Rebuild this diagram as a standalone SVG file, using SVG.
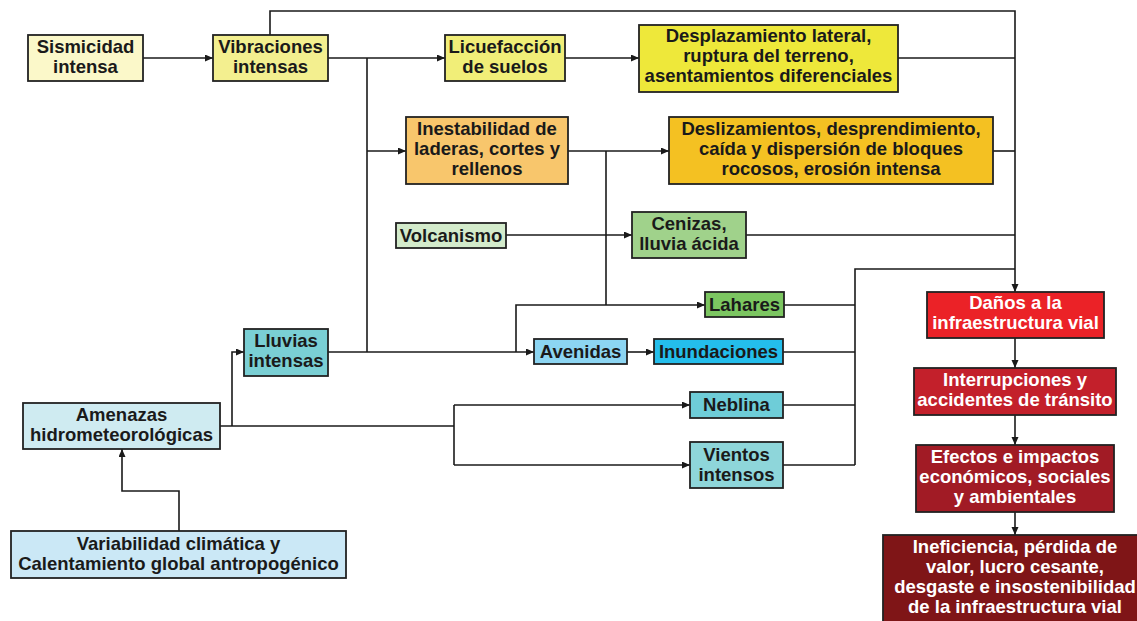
<svg xmlns="http://www.w3.org/2000/svg" width="1137" height="621" viewBox="0 0 1137 621">
<defs>
<marker id="ah" markerUnits="userSpaceOnUse" markerWidth="9" markerHeight="8" refX="8" refY="3.5" orient="auto">
<path d="M0,0 L8,3.5 L0,7 z" fill="#1a1a1a"/>
</marker>
</defs>
<style>
.b{stroke:#222;stroke-width:1.8}
.t{font-family:"Liberation Sans",Arial,sans-serif;font-weight:bold;font-size:18.5px;fill:#1a1a1a;text-anchor:middle}
.w{fill:#fff}
.c{fill:none;stroke:#1a1a1a;stroke-width:1.6}
.a{marker-end:url(#ah)}
</style>
<rect width="1137" height="621" fill="#fff"/>
<g id="connectors">
<path class="c a" d="M143,58 H213"/>
<path class="c a" d="M270,35 V11 H1015 V292"/>
<path class="c a" d="M328,58 H445"/>
<path class="c" d="M367,58 V352"/>
<path class="c a" d="M367,151 H406"/>
<path class="c a" d="M565,58 H639"/>
<path class="c" d="M898,58 H1015"/>
<path class="c a" d="M568,151 H669"/>
<path class="c" d="M993,151 H1015"/>
<path class="c" d="M606,151 V305"/>
<path class="c a" d="M506,235 H632"/>
<path class="c" d="M746,235 H1015"/>
<path class="c a" d="M516,352 V305 H705"/>
<path class="c a" d="M328,352 H534"/>
<path class="c a" d="M627,352 H654"/>
<path class="c" d="M1015,269 H855 V465"/>
<path class="c" d="M784,305 H855"/>
<path class="c" d="M783,352 H855"/>
<path class="c" d="M783,405 H855"/>
<path class="c" d="M783,465 H855"/>
<path class="c" d="M220,426 H454"/>
<path class="c a" d="M232,426 V352 H244"/>
<path class="c" d="M454,405 V465"/>
<path class="c a" d="M454,405 H690"/>
<path class="c a" d="M454,465 H690"/>
<path class="c a" d="M179,531 V491 H122 V449"/>
<path class="c a" d="M1015,338 V368"/>
<path class="c a" d="M1015,415 V445"/>
<path class="c a" d="M1015,512 V535"/>
</g>
<g id="sismicidad"><rect class="b" x="28" y="35" width="115" height="46" fill="#FBF8C9"/><text class="t" x="85.5" y="53">Sismicidad</text><text class="t" x="85.5" y="73">intensa</text></g>
<g id="vibraciones"><rect class="b" x="213" y="35" width="115" height="46" fill="#F3EF8F"/><text class="t" x="270.5" y="53">Vibraciones</text><text class="t" x="270.5" y="73">intensas</text></g>
<g id="licuefaccion"><rect class="b" x="445" y="35" width="120" height="46" fill="#F1EE78"/><text class="t" x="505" y="53">Licuefacción</text><text class="t" x="505" y="73">de suelos</text></g>
<g id="desplazamiento"><rect class="b" x="639" y="25" width="259" height="67" fill="#EEE83A"/><text class="t" x="768.5" y="42">Desplazamiento lateral,</text><text class="t" x="768.5" y="62">ruptura del terreno,</text><text class="t" x="768.5" y="82">asentamientos diferenciales</text></g>
<g id="inestabilidad"><rect class="b" x="406" y="117" width="162" height="67" fill="#F8C66C"/><text class="t" x="487" y="135">Inestabilidad de</text><text class="t" x="487" y="155">laderas, cortes y</text><text class="t" x="487" y="175">rellenos</text></g>
<g id="deslizamientos"><rect class="b" x="669" y="117" width="324" height="67" fill="#F4C122"/><text class="t" x="831" y="135">Deslizamientos, desprendimiento,</text><text class="t" x="831" y="155">caída y dispersión de bloques</text><text class="t" x="831" y="175">rocosos, erosión intensa</text></g>
<g id="volcanismo"><rect class="b" x="396" y="223" width="110" height="25" fill="#D3EBCB"/><text class="t" x="451" y="242">Volcanismo</text></g>
<g id="cenizas"><rect class="b" x="632" y="212" width="114" height="46" fill="#A0D28B"/><text class="t" x="689" y="230">Cenizas,</text><text class="t" x="689" y="250">lluvia ácida</text></g>
<g id="lahares"><rect class="b" x="705" y="292" width="79" height="25" fill="#7CC661"/><text class="t" x="744.5" y="311">Lahares</text></g>
<g id="avenidas"><rect class="b" x="534" y="339" width="93" height="25" fill="#8CD5F2"/><text class="t" x="580.5" y="358">Avenidas</text></g>
<g id="inundaciones"><rect class="b" x="654" y="339" width="129" height="25" fill="#24BEEC"/><text class="t" x="718.5" y="358">Inundaciones</text></g>
<g id="neblina"><rect class="b" x="690" y="392" width="93" height="26" fill="#6ECDD8"/><text class="t" x="736.5" y="411">Neblina</text></g>
<g id="vientos"><rect class="b" x="690" y="442" width="93" height="46" fill="#8ED6DA"/><text class="t" x="736.5" y="461">Vientos</text><text class="t" x="736.5" y="481">intensos</text></g>
<g id="lluvias"><rect class="b" x="244" y="329" width="84" height="47" fill="#7ACFD4"/><text class="t" x="286" y="347">Lluvias</text><text class="t" x="286" y="367">intensas</text></g>
<g id="amenazas"><rect class="b" x="23" y="403" width="197" height="46" fill="#CFEBF1"/><text class="t" x="121.5" y="421">Amenazas</text><text class="t" x="121.5" y="441">hidrometeorológicas</text></g>
<g id="variabilidad"><rect class="b" x="11" y="531" width="335" height="47" fill="#CBE8F6"/><text class="t" x="178.5" y="550">Variabilidad climática y</text><text class="t" x="178.5" y="570">Calentamiento global antropogénico</text></g>
<g id="danos"><rect class="b" x="927" y="292" width="177" height="46" fill="#EB2227"/><text class="t w" x="1015.5" y="309">Daños a la</text><text class="t w" x="1015.5" y="329">infraestructura vial</text></g>
<g id="interrupciones"><rect class="b" x="914" y="368" width="202" height="47" fill="#C3202B"/><text class="t w" x="1015" y="386">Interrupciones y</text><text class="t w" x="1015" y="406">accidentes de tránsito</text></g>
<g id="efectos"><rect class="b" x="916" y="445" width="198" height="67" fill="#A11B25"/><text class="t w" x="1015" y="463">Efectos e impactos</text><text class="t w" x="1015" y="483">económicos, sociales</text><text class="t w" x="1015" y="503">y ambientales</text></g>
<g id="ineficiencia"><rect class="b" x="883" y="535" width="260" height="92" fill="#7F1517"/><text class="t w" x="1015" y="553">Ineficiencia, pérdida de</text><text class="t w" x="1015" y="573">valor, lucro cesante,</text><text class="t w" x="1015" y="593">desgaste e insostenibilidad</text><text class="t w" x="1015" y="613">de la infraestructura vial</text></g>
</svg>
